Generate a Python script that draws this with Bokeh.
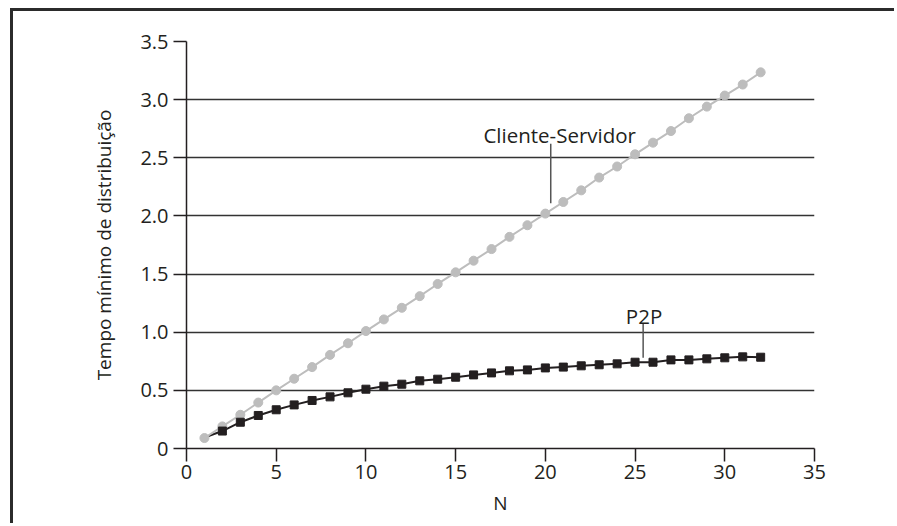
from bokeh.plotting import figure
from bokeh.models import Range1d, FixedTicker, Label
from bokeh.embed import file_html
from bokeh.resources import INLINE

# ---- data ----
n_values = list(range(1, 33))
cs_times = [0.09, 0.19, 0.29, 0.395, 0.50, 0.60, 0.70, 0.805, 0.905, 1.01,
            1.11, 1.21, 1.31, 1.415, 1.515, 1.615, 1.715, 1.82, 1.92, 2.02,
            2.12, 2.22, 2.33, 2.425, 2.53, 2.63, 2.73, 2.84, 2.94, 3.035,
            3.13, 3.235]
p2p_times = [0.095, 0.15, 0.226, 0.284, 0.333, 0.375, 0.413, 0.444, 0.479, 0.51,
             0.536, 0.553, 0.582, 0.596, 0.613, 0.633, 0.65, 0.668, 0.676, 0.693,
             0.70, 0.711, 0.72, 0.728, 0.742, 0.742, 0.762, 0.762, 0.771, 0.78,
             0.788, 0.785]
x_ticks = [0, 5, 10, 15, 20, 25, 30, 35]
y_ticks = [0, 0.5, 1.0, 1.5, 2.0, 2.5, 3.0, 3.5]
y_tick_labels = ["0", "0.5", "1.0", "1.5", "2.0", "2.5", "3.0", "3.5"]
x_title = "N"
y_title = "Tempo mínimo de distribuição"
cs_name = "Cliente-Servidor"
p2p_name = "P2P"

FONT = "Open Sans"
INK = "#231f20"
GRAY = "#bdbdbd"

p = figure(width=884, height=515, output_backend="svg", toolbar_location=None,
           x_range=Range1d(0, 35), y_range=Range1d(0, 3.5),
           min_border_left=173, min_border_right=83, min_border_top=30,
           min_border_bottom=78)
p.styles = {"border-top": "3px solid #2b2b2b", "border-left": "3px solid #2b2b2b",
            "margin-left": "10px", "margin-top": "8px"}
p.outline_line_color = None
p.background_fill_color = "white"
p.border_fill_color = "white"

# grid
p.xgrid.visible = False
p.ygrid.ticker = FixedTicker(ticks=y_ticks)
p.ygrid.grid_line_color = "#333333"
p.ygrid.grid_line_width = 1.5

# axes
for ax in (p.xaxis[0], p.yaxis[0]):
    ax.axis_line_color = INK
    ax.axis_line_width = 1.5
    ax.major_tick_line_color = INK
    ax.major_tick_line_width = 1.5
    ax.major_tick_out = 13
    ax.major_tick_in = 0
    ax.minor_tick_line_color = None
    ax.major_label_text_font = FONT
    ax.major_label_text_font_size = "20px"
    ax.major_label_text_color = INK
    ax.axis_label_text_font = FONT
    ax.axis_label_text_font_size = "19px"
    ax.axis_label_text_font_style = "normal"
    ax.axis_label_text_color = INK

p.xaxis.ticker = FixedTicker(ticks=x_ticks)
p.yaxis.ticker = FixedTicker(ticks=y_ticks)
p.yaxis.major_label_overrides = {v: s for v, s in zip(y_ticks, y_tick_labels)}
p.xaxis.axis_label = x_title
p.yaxis.axis_label = y_title
p.xaxis.major_label_standoff = 3
p.yaxis.major_label_standoff = 5
p.xaxis.axis_label_standoff = 8
p.yaxis.axis_label_standoff = 20

# series
p.line(n_values, p2p_times, line_color=INK, line_width=2)
p.line(n_values, cs_times, line_color=GRAY, line_width=2)
p.scatter(n_values, cs_times, marker="circle", size=9, fill_color=GRAY, line_color=GRAY)
p.scatter(n_values[1:], p2p_times[1:], marker="square", size=8, fill_color=INK, line_color=INK)

# annotations with leader lines
p.segment(x0=[20.3, 25.45], y0=[2.62, 1.075], x1=[20.3, 25.45], y1=[2.11, 0.78],
          line_color="#555555", line_width=1.5)
p.add_layout(Label(x=20.8, y=2.70, text=cs_name, text_align="center",
                   text_baseline="alphabetic", text_font=FONT, text_font_size="20.5px",
                   text_color=INK))
p.add_layout(Label(x=25.5, y=1.14, text=p2p_name, text_align="center",
                   text_baseline="alphabetic", text_font=FONT, text_font_size="20.5px",
                   text_color=INK))

open("out.html", "w").write(file_html(p, INLINE))
